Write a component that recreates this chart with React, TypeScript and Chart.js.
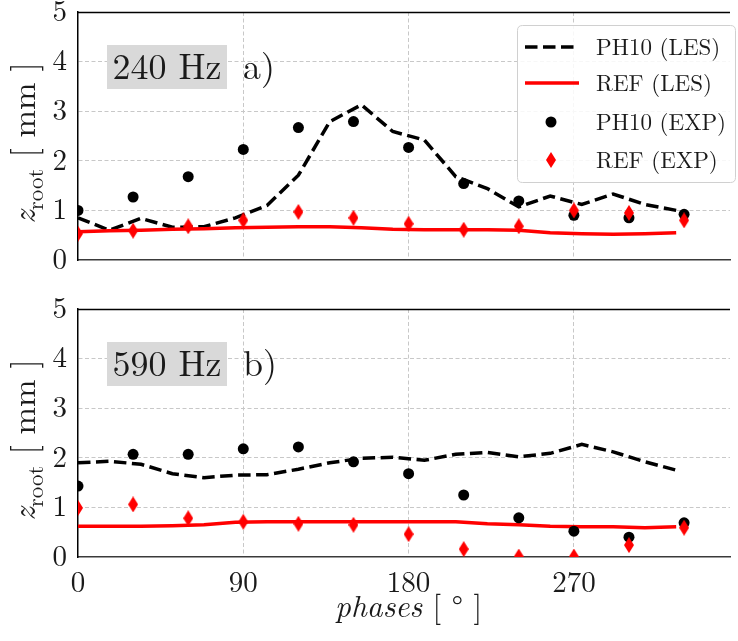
import React, { useEffect, useRef } from 'react';
import { Chart, registerables } from 'chart.js';

Chart.register(...registerables);

// ---------- data ----------
const EXP_PHASES = [0, 30, 60, 90, 120, 150, 180, 210, 240, 270, 300, 330];
const LES_PHASES = [0, 17.1, 34.3, 51.4, 68.6, 85.7, 102.9, 120, 137.1, 154.3, 171.4, 188.6, 205.7, 222.9, 240, 257.1, 274.3, 291.4, 308.6, 325.7];

const PH10_LES_240 = [0.85, 0.6, 0.84, 0.66, 0.67, 0.85, 1.1, 1.71, 2.79, 3.13, 2.59, 2.42, 1.68, 1.44, 1.07, 1.29, 1.12, 1.33, 1.12, 1.0];
const REF_LES_240 = [0.57, 0.59, 0.6, 0.62, 0.63, 0.65, 0.66, 0.67, 0.67, 0.65, 0.62, 0.61, 0.61, 0.61, 0.6, 0.55, 0.53, 0.52, 0.53, 0.55];
const PH10_EXP_240 = [1.0, 1.27, 1.68, 2.23, 2.67, 2.79, 2.27, 1.54, 1.19, 0.9, 0.85, 0.92];
const REF_EXP_240 = [0.53, 0.59, 0.68, 0.8, 0.97, 0.85, 0.73, 0.61, 0.68, 1.0, 0.95, 0.8];

const PH10_LES_590 = [1.9, 1.93, 1.87, 1.68, 1.6, 1.65, 1.66, 1.77, 1.9, 1.99, 2.01, 1.95, 2.07, 2.11, 2.02, 2.09, 2.27, 2.12, 1.92, 1.75];
const REF_LES_590 = [0.62, 0.62, 0.62, 0.63, 0.65, 0.7, 0.71, 0.71, 0.71, 0.71, 0.71, 0.71, 0.71, 0.67, 0.65, 0.62, 0.61, 0.61, 0.59, 0.61];
const PH10_EXP_590 = [1.43, 2.07, 2.07, 2.18, 2.22, 1.92, 1.68, 1.25, 0.79, 0.52, 0.4, 0.69];
const REF_EXP_590 = [0.99, 1.06, 0.78, 0.71, 0.67, 0.65, 0.46, 0.16, 0.01, 0.01, 0.24, 0.59];

const SERIES_LABELS = ['PH10 (LES)', 'REF (LES)', 'PH10 (EXP)', 'REF (EXP)'];
const PANEL_LABELS = ['240 Hz', '590 Hz'];
const PANEL_TAGS = ['a)', 'b)'];
const X_TICKS = [0, 90, 180, 270];
const Y_TICKS = [0, 1, 2, 3, 4, 5];
const X_MIN = 0;
const X_MAX = 355;
const Y_MIN = 0;
const Y_MAX = 5;

const SERIF = '"Latin Modern Roman", "Liberation Serif", serif';
const RED = '#ff0000';
const DASH = [12.5, 5.5];

function makeDiamond(): HTMLCanvasElement {
  const c = document.createElement('canvas');
  c.width = 10;
  c.height = 16;
  const g = c.getContext('2d')!;
  g.fillStyle = RED;
  g.beginPath();
  g.moveTo(5, 0);
  g.lineTo(10, 8);
  g.lineTo(5, 16);
  g.lineTo(0, 8);
  g.closePath();
  g.fill();
  return c;
}

function zip(xs: number[], ys: number[]) {
  return xs.map((x, i) => ({ x, y: ys[i] }));
}

const decorPlugin = {
  id: 'decor',
  afterDatasetsDraw(chart: any, _args: any, opts: any) {
    const { ctx, chartArea } = chart;
    const a = chartArea;
    ctx.save();
    // top spine
    ctx.strokeStyle = '#000';
    ctx.lineWidth = 1.3;
    ctx.beginPath();
    ctx.moveTo(a.left, a.top + 0.5);
    ctx.lineTo(a.right, a.top + 0.5);
    ctx.stroke();

    // panel label box
    const by = a.top + 33;
    ctx.fillStyle = '#d9d9d9';
    ctx.fillRect(107, by, 120, 44);
    ctx.fillStyle = '#1a1a1a';
    ctx.font = `36px ${SERIF}`;
    ctx.textBaseline = 'middle';
    ctx.textAlign = 'center';
    ctx.fillText(opts.label, 167, by + 23);
    ctx.textAlign = 'left';
    ctx.fillText(opts.tag, 243, by + 23);

    // y title
    const cy = (a.top + a.bottom) / 2 + 7;
    ctx.translate(35, cy);
    ctx.rotate(-Math.PI / 2);
    ctx.textBaseline = 'alphabetic';
    const fz = `italic 33px ${SERIF}`;
    const fs = `23px ${SERIF}`;
    const fm = `33px ${SERIF}`;
    ctx.font = fz;
    const wz = ctx.measureText('z').width;
    ctx.font = fs;
    const ws = ctx.measureText('root').width;
    ctx.font = fm;
    const rest = ' [ mm ]';
    const wr = ctx.measureText(rest).width;
    let x0 = -(wz + ws + wr) / 2;
    ctx.font = fz;
    ctx.fillText('z', x0, 0);
    x0 += wz;
    ctx.font = fs;
    ctx.fillText('root', x0, 8);
    x0 += ws;
    ctx.font = fm;
    ctx.fillText(rest, x0, 0);
    ctx.restore();

    if (opts.xTitle) {
      ctx.save();
      const xc = chart.scales.x.getPixelForValue(180);
      ctx.textBaseline = 'alphabetic';
      ctx.fillStyle = '#1a1a1a';
      const f1 = `italic 31px ${SERIF}`;
      const f2 = `31px ${SERIF}`;
      ctx.font = f1;
      const w1 = ctx.measureText('phases').width;
      ctx.font = f2;
      const t2 = ' [ \u00B0 ]';
      const w2 = ctx.measureText(t2).width;
      const xs = xc - (w1 + w2) / 2;
      ctx.font = f1;
      ctx.fillText('phases', xs, 332);
      ctx.font = f2;
      ctx.fillText(t2, xs + w1, 332);
      ctx.restore();
    }

    if (opts.legend) {
      ctx.save();
      const lx = 517.5, ly = 25.5, lw = 218, lh = 157, r = 5;
      ctx.beginPath();
      ctx.moveTo(lx + r, ly);
      ctx.lineTo(lx + lw - r, ly);
      ctx.quadraticCurveTo(lx + lw, ly, lx + lw, ly + r);
      ctx.lineTo(lx + lw, ly + lh - r);
      ctx.quadraticCurveTo(lx + lw, ly + lh, lx + lw - r, ly + lh);
      ctx.lineTo(lx + r, ly + lh);
      ctx.quadraticCurveTo(lx, ly + lh, lx, ly + lh - r);
      ctx.lineTo(lx, ly + r);
      ctx.quadraticCurveTo(lx, ly, lx + r, ly);
      ctx.closePath();
      ctx.fillStyle = 'rgba(255,255,255,0.85)';
      ctx.fill();
      ctx.strokeStyle = '#d0d0d0';
      ctx.lineWidth = 1;
      ctx.stroke();

      const rows = [47, 83, 122, 160];
      ctx.lineWidth = 3.5;
      ctx.strokeStyle = '#000';
      ctx.setLineDash(DASH);
      ctx.beginPath();
      ctx.moveTo(525, rows[0]);
      ctx.lineTo(579, rows[0]);
      ctx.stroke();
      ctx.setLineDash([]);
      ctx.strokeStyle = RED;
      ctx.beginPath();
      ctx.moveTo(525, rows[1]);
      ctx.lineTo(579, rows[1]);
      ctx.stroke();
      ctx.fillStyle = '#000';
      ctx.beginPath();
      ctx.arc(551, rows[2], 5.5, 0, Math.PI * 2);
      ctx.fill();
      const d = opts.diamond as HTMLCanvasElement;
      ctx.drawImage(d, 551 - d.width / 2, rows[3] - d.height / 2);

      ctx.fillStyle = '#1a1a1a';
      ctx.font = `23px ${SERIF}`;
      ctx.textBaseline = 'middle';
      ctx.textAlign = 'left';
      SERIES_LABELS.forEach((t, i) => ctx.fillText(t, 596, rows[i] + 1));
      ctx.restore();
    }
  },
};

type PanelProps = {
  index: number;
  top: number;
  height: number;
  padTop: number;
  xHeight: number;
  showX: boolean;
  les1: number[];
  les2: number[];
  exp1: number[];
  exp2: number[];
};

function Panel(p: PanelProps) {
  const ref = useRef<HTMLCanvasElement>(null);
  useEffect(() => {
    let chart: Chart | null = null;
    let cancelled = false;
    const build = () => {
      if (cancelled || !ref.current) return;
      const diamond = makeDiamond();
      const gridColor = (c: any) =>
        c.tick && (c.tick.value === Y_MIN || c.tick.value === Y_MAX) ? 'rgba(0,0,0,0)' : '#c8c8c8';
      const xGridColor = (c: any) =>
        c.tick && c.tick.value === X_MIN ? 'rgba(0,0,0,0)' : '#c8c8c8';
      chart = new Chart(ref.current, {
        type: 'scatter',
        data: {
          datasets: [
            {
              label: SERIES_LABELS[0],
              data: zip(LES_PHASES, p.les1),
              showLine: true,
              borderColor: '#000',
              borderWidth: 3.5,
              borderDash: DASH,
              pointRadius: 0,
              order: 4,
              clip: 0,
            } as any,
            {
              label: SERIES_LABELS[1],
              data: zip(LES_PHASES, p.les2),
              showLine: true,
              borderColor: RED,
              borderWidth: 3.5,
              pointRadius: 0,
              order: 3,
              clip: 0,
            },
            {
              label: SERIES_LABELS[2],
              data: zip(EXP_PHASES, p.exp1),
              pointStyle: 'circle',
              pointRadius: 5.5,
              backgroundColor: '#000',
              borderWidth: 0,
              order: 2,
              clip: 0,
            },
            {
              label: SERIES_LABELS[3],
              data: zip(EXP_PHASES, p.exp2),
              pointStyle: diamond,
              pointRadius: 8,
              backgroundColor: RED,
              borderWidth: 0,
              order: 1,
              clip: 0,
            },
          ],
        },
        options: {
          responsive: false,
          animation: false,
          events: [],
          layout: { padding: { top: p.padTop, left: 0, right: 0, bottom: 0 } },
          plugins: {
            legend: { display: false },
            tooltip: { enabled: false },
            decor: {
              label: PANEL_LABELS[p.index],
              tag: PANEL_TAGS[p.index],
              legend: p.index === 0,
              xTitle: p.showX,
              diamond,
            },
          } as any,
          scales: {
            x: {
              type: 'linear',
              min: X_MIN,
              max: X_MAX,
              afterBuildTicks: (s: any) => {
                s.ticks = X_TICKS.map((v) => ({ value: v }));
              },
              afterFit: (s: any) => {
                s.height = p.xHeight;
                s.paddingLeft = 0;
                s.paddingRight = 0;
              },
              grid: { color: xGridColor, lineWidth: 1, drawTicks: false },
              border: { display: true, color: '#3a3a3a', width: 1.5, dash: [4, 2.5] },
              ticks: {
                display: p.showX,
                color: '#1a1a1a',
                font: { family: SERIF, size: 29 },
                padding: 9,
                maxRotation: 0,
                autoSkip: false,
              },
            },
            y: {
              type: 'linear',
              min: Y_MIN,
              max: Y_MAX,
              afterBuildTicks: (s: any) => {
                s.ticks = Y_TICKS.map((v) => ({ value: v }));
              },
              afterFit: (s: any) => {
                s.width = 78;
                s.paddingTop = 0;
                s.paddingBottom = 0;
              },
              grid: { color: gridColor, lineWidth: 1, drawTicks: false },
              border: { display: true, color: '#000', width: 1.5, dash: [4, 2.5] },
              ticks: {
                color: '#1a1a1a',
                font: { family: SERIF, size: 29 },
                padding: 11,
              },
            },
          },
        },
        plugins: [decorPlugin as any],
      });
    };
    const fonts = (document as any).fonts;
    if (fonts && fonts.load) {
      Promise.all([
        fonts.load(`29px ${SERIF}`),
        fonts.load(`italic 31px ${SERIF}`),
      ]).then(build, build);
    } else {
      build();
    }
    return () => {
      cancelled = true;
      if (chart) chart.destroy();
    };
  }, []);
  return (
    <canvas
      ref={ref}
      width={738}
      height={p.height}
      style={{ position: 'absolute', left: 0, top: p.top, width: 738, height: p.height }}
    />
  );
}

export default function App() {
  return (
    <div style={{ position: 'absolute', left: 0, top: 0, width: 738, height: 641, background: '#fff', overflow: 'hidden' }}>
      <Panel index={0} top={0} height={280} padTop={12} xHeight={20} showX={false}
        les1={PH10_LES_240} les2={REF_LES_240} exp1={PH10_EXP_240} exp2={REF_EXP_240} />
      <Panel index={1} top={285} height={356} padTop={24} xHeight={84} showX={true}
        les1={PH10_LES_590} les2={REF_LES_590} exp1={PH10_EXP_590} exp2={REF_EXP_590} />
    </div>
  );
}
